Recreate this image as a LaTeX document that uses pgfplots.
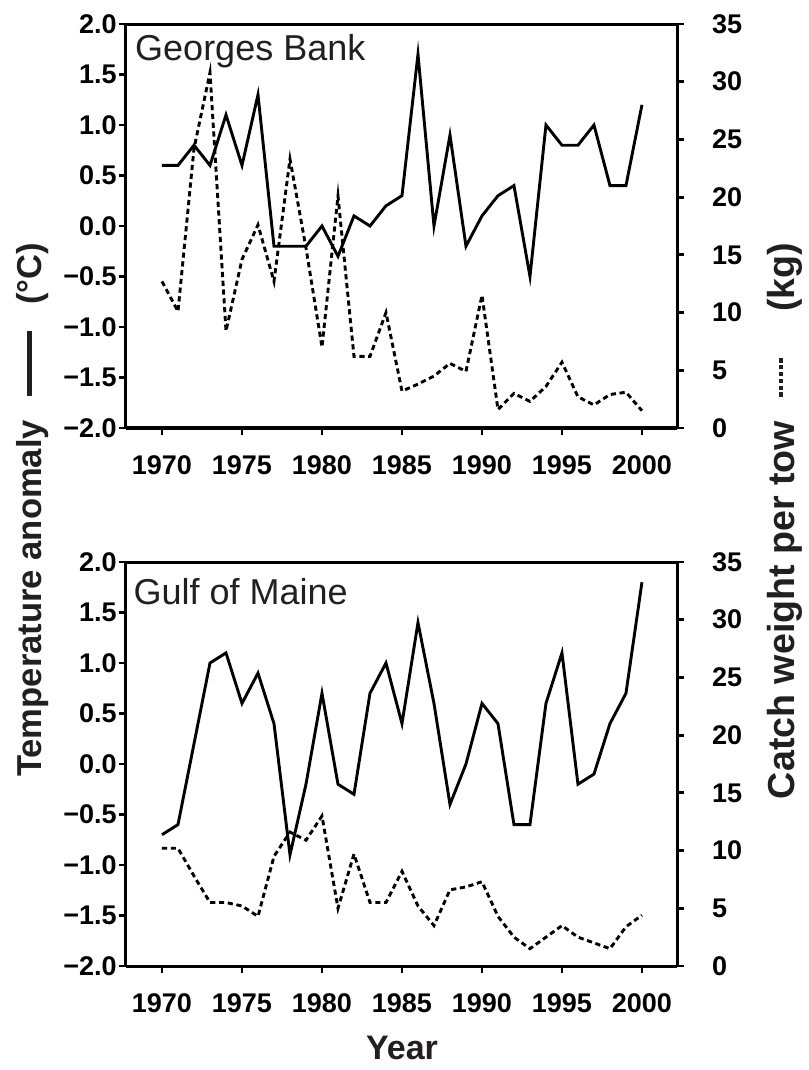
\documentclass[border=0pt]{standalone}
\usepackage{pgfplots}
\pgfplotsset{compat=1.18}
\usepackage{fontspec}
\setmainfont{Liberation Sans}
\definecolor{txt}{HTML}{231F20}

\pgfplotstableread{
year temp catch
1970 0.6 12.7
1971 0.6 10.1
1972 0.8 24.2
1973 0.6 30.8
1974 1.1 8.4
1975 0.6 14.6
1976 1.3 17.6
1977 -0.2 12.7
1978 -0.2 23.3
1979 -0.2 15.6
1980 0.0 7.0
1981 -0.3 20.1
1982 0.1 6.2
1983 0.0 6.2
1984 0.2 10.0
1985 0.3 3.2
1986 1.7 3.8
1987 0.0 4.5
1988 0.9 5.6
1989 -0.2 4.9
1990 0.1 11.5
1991 0.3 1.6
1992 0.4 3.0
1993 -0.5 2.3
1994 1.0 3.6
1995 0.8 5.7
1996 0.8 2.7
1997 1.0 2.0
1998 0.4 2.9
1999 0.4 3.1
2000 1.2 1.5
}\georges

\pgfplotstableread{
year temp catch
1970 -0.7 10.2
1971 -0.6 10.2
1972 0.2 7.8
1973 1.0 5.5
1974 1.1 5.5
1975 0.6 5.2
1976 0.9 4.3
1977 0.4 9.5
1978 -0.9 11.6
1979 -0.2 10.9
1980 0.7 13.0
1981 -0.2 5.0
1982 -0.3 9.7
1983 0.7 5.5
1984 1.0 5.5
1985 0.4 8.2
1986 1.4 5.2
1987 0.6 3.5
1988 -0.4 6.6
1989 0.0 6.85
1990 0.6 7.3
1991 0.4 4.3
1992 -0.6 2.5
1993 -0.6 1.5
1994 0.6 2.5
1995 1.1 3.5
1996 -0.2 2.5
1997 -0.1 2.0
1998 0.4 1.5
1999 0.7 3.4
2000 1.8 4.4
}\maine

\pgfplotsset{
  base/.style={
    scale only axis, width=275.5pt, height=202pt,
    xmin=1967.75, xmax=2002.19,
    tick align=outside, major tick length=3.5pt,
    every tick/.style={black, line width=1.4pt},
    axis line style={line width=1.5pt},
    tick label style={font=\bfseries\fontsize{13.5}{15}\selectfont},
    anchor=south west,
  },
  leftax/.style={
    base, ymin=-2, ymax=2, axis y line*=left,
    xtick={1970,1975,1980,1985,1990,1995,2000},
    xticklabels={1970,1975,1980,1985,1990,1995,2000},
    xtick pos=left,
    xticklabel style={yshift=-7pt},
    ytick={-2,-1.5,-1,-0.5,0,0.5,1,1.5,2},
    yticklabels={−2.0,−1.5,−1.0,−0.5,0.0,0.5,1.0,1.5,2.0},
    yticklabel style={inner sep=1pt},
  },
  rightax/.style={
    base, ymin=0, ymax=35, axis y line*=right, axis x line=none,
    ytick={0,5,10,15,20,25,30,35},
    yticklabels={0,5,10,15,20,25,30,35},
    yticklabel style={xshift=10.5pt},
  },
  tline/.style={black, line width=1.45pt, line join=miter},
  cline/.style={black, line width=1.45pt, dash pattern=on 2.6pt off 1.8pt},
}

\newcommand\dashseg{\leavevmode\leaders\hbox to 3.4pt{\hss\rule[0.3em]{2.1pt}{2pt}\hss}\hskip 23.5pt}

\begin{document}
\begin{tikzpicture}
\useasboundingbox (-63pt,-321pt) rectangle (341pt,214pt);

% Georges Bank
\begin{axis}[leftax, at={(0pt,0pt)}]
\addplot[tline] table[x=year, y=temp] {\georges};
\node[anchor=north west, inner sep=0pt, text=txt, font=\fontsize{18}{20}\selectfont] at (rel axis cs:0.016,0.975) {Georges Bank};
\end{axis}
\begin{axis}[rightax, at={(0pt,0pt)}]
\addplot[cline] table[x=year, y=catch] {\georges};
\end{axis}

% Gulf of Maine
\begin{axis}[leftax, at={(0pt,-269pt)}]
\addplot[tline] table[x=year, y=temp] {\maine};
\node[anchor=north west, inner sep=0pt, text=txt, font=\fontsize{18}{20}\selectfont] at (rel axis cs:0.013,0.96) {Gulf of Maine};
\end{axis}
\begin{axis}[rightax, at={(0pt,-269pt)}]
\addplot[cline] table[x=year, y=catch] {\maine};
\end{axis}

% axis titles
\node[rotate=90, text=txt, font=\bfseries\fontsize{17.3}{19}\selectfont] at (-46.5pt,-41pt)
  {Temperature anomaly\hspace{12pt}\rule[0.3em]{32.5pt}{2.2pt}\hspace{13pt}(°C)};
\node[rotate=90, text=txt, font=\bfseries\fontsize{18.8}{20}\selectfont] at (329.5pt,-46.5pt)
  {Catch weight per tow\hspace{9pt}\dashseg\hspace{22pt}(kg)};
\node[text=txt, font=\bfseries\fontsize{17}{19}\selectfont] at (138pt,-310pt) {Year};
\end{tikzpicture}
\end{document}
